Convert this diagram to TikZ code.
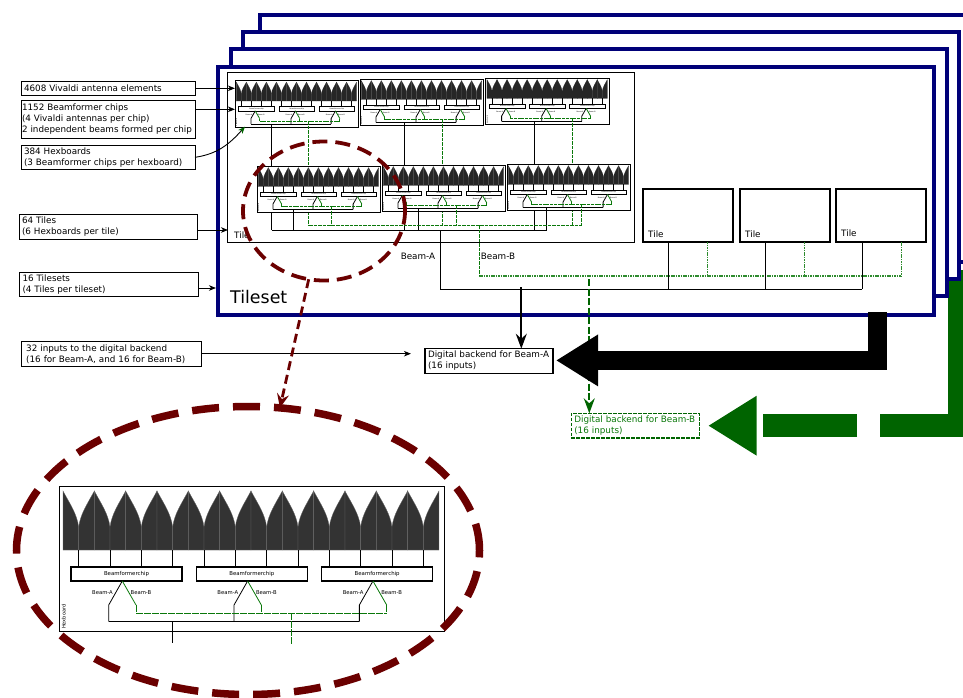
\documentclass[tikz,border=0pt]{standalone}
\usepackage{fontspec}
\setmainfont{DejaVu Sans}
\usetikzlibrary{arrows.meta,positioning,shapes.geometric,calc}
\definecolor{framenavy}{HTML}{000078}
\definecolor{beamgreen}{HTML}{006400}
\definecolor{beamline}{HTML}{0A780A}
\definecolor{tilegreen}{HTML}{2E8B2E}
\definecolor{zoomred}{HTML}{6B0000}
\definecolor{antennagray}{HTML}{333333}
\tikzset{
    antenna/.style={fill=antennagray, draw=black!60, line width=.3pt},
    feedline/.style={line width=.7pt},
    chipbox/.style={draw, fill=white, line width=1.5pt, minimum width=111pt, minimum height=14pt, inner sep=0pt, outer sep=0pt, font=\fontsize{5.4}{6}\selectfont, transform shape},
    beamtag/.style={font=\fontsize{5.3}{6}\selectfont, inner sep=0pt, transform shape},
    beama/.style={draw=black, line width=.8pt},
    beamb/.style={draw=beamline, line width=.9pt, dash pattern=on 6.5pt off 1.5pt},
    pics/hexboard/.style 2 args={code={
        \node[draw, fill=white, line width=.8pt, anchor=north west, minimum width=385pt, minimum height=145pt, inner sep=0pt, outer sep=0pt, transform shape] (-box) at (0,0) {};
        % antennas and their feeds
        \foreach \k [evaluate=\k as \xa using 4+31.33*\k] in {0,...,11} {
            \path[antenna] (\xa,5) .. controls (\xa+7,18) and (\xa+14,28) .. (\xa+15.67,41) -- (\xa+15.67,64) -- (\xa,64) -- cycle;
            \path[antenna] (\xa+31.33,5) .. controls (\xa+24.33,18) and (\xa+17.33,28) .. (\xa+15.67,41) -- (\xa+15.67,64) -- (\xa+31.33,64) -- cycle;
            \draw[feedline] (\xa+15.67,64) -- (\xa+15.67,81);
        }
        % chips
        \foreach \c [evaluate=\c as \xc using 125.33*\c] in {0,1,2} {
            \node[chipbox] (-chip\c) at (67.5+\xc,88) {Beamformerchip};
            \node[beamtag] (-taga\c) at (43.5+\xc,107) {Beam-A};
            \node[beamtag] (-tagb\c) at (82+\xc,107) {Beam-B};
            \draw[beama] (63.3+\xc,95) -- (49.7+\xc,119) -- (49.7+\xc,135.7);
            \draw[draw=beamline, line width=.8pt] (63.3+\xc,95) -- (77+\xc,119);
            \draw[beamb] (77+\xc,119) -- (77+\xc,127.3);
        }
        % buses
        \coordinate (-a) at (#1,135.7);
        \coordinate (-b) at (#2,127.3);
        \draw[beamb] (77,127.3) -- (327.7,127.3);
        \draw[beama] (49.7,135.7) -- (300.4,135.7);
        \node[rotate=90, anchor=south west, font=\fontsize{5}{6}\selectfont, inner sep=0pt, transform shape] (-tag) at (7,143) {Hexboard};
    }},
}
\begin{document}
\begin{tikzpicture}[
    x=1pt, y=-1pt,
    infofont/.style={font=\fontsize{8.8}{11.1}\selectfont},
    infobox/.style 2 args={draw, fill=white, line width=.9pt, infofont, align=left, anchor=north west, text width=#1, minimum height=#2, inner xsep=3pt, inner ysep=0pt, outer sep=0pt},
    backend/.style={infobox={122pt}{24.5pt}, line width=1.4pt},
    tilesetbox/.style 2 args={draw=framenavy, fill=white, line width=4pt, anchor=north west, minimum width=#1, minimum height=#2, inner sep=0pt, outer sep=0pt},
    tilebox/.style={draw, fill=white, line width=2pt, anchor=north west, minimum width=90pt, minimum height=53pt, inner sep=0pt, outer sep=0pt},
    tilename/.style={infofont, anchor=base west, inner sep=0pt},
    arrow/.style={-{Stealth[length=7pt,width=5.5pt,inset=2pt]}, line width=.9pt},
    busa/.style={line width=.9pt},
    busb/.style={draw=beamline, line width=.9pt, dash pattern=on 3.5pt off 1pt},
    tilebusb/.style={draw=tilegreen, line width=1.1pt, dash pattern=on 1.6pt off .8pt},
    outarrow/.style={line width=1.9pt, -{Stealth[length=15pt,width=11pt,inset=5pt]}},
    zoomring/.style={draw=zoomred, ellipse, inner sep=0pt, outer sep=0pt},
]
    \useasboundingbox (0,0) rectangle (963,698);
    \clip (0,0) rectangle (963,698);

    % Beam-B feed, runs behind the tilesets
    \coordinate (feedbtop) at (959.3,270);
    \coordinate (feedbtip) at (708,425.7);
    \draw[beamgreen, line width=23.4pt, dash pattern=on 235pt off 23pt on 94pt off 200pt, -{Triangle[length=48.7pt,width=56.3pt]}] (feedbtop) |- (feedbtip);

    % Tilesets, back to front
    \node[tilesetbox={720pt}{247pt}] (tilesetd) at (259.7,15.3) {};
    \node[tilesetbox={716.3pt}{246.7pt}] (tilesetc) at (242.5,32) {};
    \node[tilesetbox={716.3pt}{246.5pt}] (tilesetb) at (230.7,49) {};
    \node[tilesetbox={716.5pt}{247pt}] (tileseta) at (217.5,67.5) {};
    \node[anchor=base west, font=\fontsize{17.4}{20}\selectfont, inner sep=0pt] (tilesetname) at (230,303) {Tileset};

    % Tile with six hexboards
    \node[draw, fill=white, line width=.9pt, anchor=north west, minimum width=406.5pt, minimum height=170pt, inner sep=0pt, outer sep=0pt] (tileone) at (227.7,72.3) {};
    \node[tilename] (tileonename) at (234,238) {Tile};

    \coordinate (busaw) at (271.7,230);
    \coordinate (busae) at (546.7,230);
    \coordinate (busbw) at (309,225);
    \coordinate (busbe) at (582,225);
    \begin{scope}[antenna/.append style={fill=black!85, draw=black!85, line width=.1pt}, feedline/.append style={line width=.8pt}, chipbox/.append style={line width=.8pt}, beamb/.append style={dash pattern=on 3pt off .7pt}]
        \pic[scale=.32] (hbone) at (235,80.5) {hexboard={113}{231}};
        \pic[scale=.32] (hbtwo) at (360,79) {hexboard={137.5}{259}};
        \pic[scale=.32] (hbthree) at (485.7,78) {hexboard={152.5}{271}};
        \foreach \hb in {hbone,hbtwo,hbthree} {
            \draw[busa] (\hb-a) -- (\hb-a |- busaw);
            \draw[busb] (\hb-b) -- (\hb-b |- busbw);
        }
        \pic[scale=.32] (hbfour) at (257,166) {hexboard={113}{233}};
        \pic[scale=.32] (hbfive) at (382,165) {hexboard={114.7}{233}};
        \pic[scale=.32] (hbsix) at (507,164) {hexboard={124}{234}};
    \end{scope}
    \foreach \hb in {hbfour,hbfive,hbsix} {
        \draw[busa] (\hb-a) -- (\hb-a |- busaw);
        \draw[busb] (\hb-b) -- (\hb-b |- busbw);
    }
    \draw[busa] (busaw) -- (busae);
    \draw[busb] (busbw) -- (busbe);

    % Other tiles
    \node[tilebox] (tiletwo) at (642.7,189.3) {};
    \node[tilebox, minimum width=89.5pt] (tilethree) at (740,189.3) {};
    \node[tilebox, minimum width=89.7pt] (tilefour) at (836.3,189) {};
    \node[tilename] (tiletwoname) at (648,237.5) {Tile};
    \node[tilename] (tilethreename) at (745,237.5) {Tile};
    \node[tilename] (tilefourname) at (841,236.5) {Tile};

    % Tileset buses
    \coordinate (tilesetaw) at (440,289);
    \coordinate (tilesetae) at (862.3,289);
    \coordinate (tilesetbw) at (479,276);
    \coordinate (tilesetbe) at (901,276);
    \draw[busa] (busaw -| tilesetaw) -- (tilesetaw) -- (tilesetae);
    \draw[tilebusb] (tilesetbw) -- (tilesetbe);
    \draw[busb] (busbw -| tilesetbw) -- (tilesetbw);
    \foreach \tl in {tiletwo,tilethree,tilefour} {
        \draw[busa] ([xshift=-19pt]\tl.south) -- ([xshift=-19pt]\tl.south |- tilesetaw);
        \draw[tilebusb] ([xshift=20pt]\tl.south) -- ([xshift=20pt]\tl.south |- tilesetbw);
    }
    \node[infofont, inner sep=0pt] (beamaname) at (418,256.7) {Beam-A};
    \node[infofont, inner sep=0pt] (beambname) at (498,256) {Beam-B};

    % Digital backends
    \node[backend] (backenda) at (425,348.7) {Digital backend for Beam-A\\(16 inputs)};
    \node[backend, draw=beamgreen, text=beamline, dash pattern=on 3.5pt off 1.5pt] (backendb) at (571.3,413.3) {Digital backend for Beam-B\\(16 inputs)};

    \coordinate (outb) at (589.3,279);
    \draw[outarrow, beamgreen, dash pattern=on 7pt off 2.5pt] (outb) -- (outb |- backendb.north);
    \coordinate (outa) at (521.3,287);
    \draw[outarrow] (outa) -- (outa |- backenda.north);

    \coordinate (feedatop) at (877.5,312);
    \coordinate (feedatip) at (556,360.4);
    \draw[line width=19.6pt, -{Triangle[length=42pt,width=48.7pt]}] (feedatop) |- (feedatip);

    % Labels on the left
    \node[infobox={168pt}{14.6pt}] (labelelements) at (21,81) {4608 Vivaldi antenna elements};
    \node[infobox={172pt}{37.3pt}, inner xsep=1pt] (labelchips) at (21,100.7) {1152 Beamformer chips\\(4 Vivaldi antennas per chip)\\2 independent beams formed per chip};
    \node[infobox={168pt}{24pt}] (labelhexboards) at (21,145.3) {384 Hexboards\\(3 Beamformer chips per hexboard)};
    \node[infobox={172.3pt}{24.6pt}] (labeltiles) at (19,214.7) {64 Tiles\\(6 Hexboards per tile)};
    \node[infobox={172pt}{24pt}, inner xsep=3.5pt] (labeltilesets) at (19,272.3) {16 Tilesets\\(4 Tiles per tileset)};
    \node[infobox={170.3pt}{24.3pt}, inner xsep=4.5pt] (labelinputs) at (21.7,341.7) {32 inputs to the digital backend\\(16 for Beam-A, and 16 for Beam-B)};

    \coordinate (chiptip) at (235,109.3);
    \coordinate (hexboardtip) at (245,126.7);
    \coordinate (tiletip) at (228,230);
    \coordinate (tilesettip) at (216,288);
    \coordinate (inputtip) at (411,353.7);
    \draw[arrow] (labelelements.east) -- (labelelements.east -| hbone-box.west);
    \draw[arrow] (labelchips.east |- chiptip) -- (chiptip);
    \draw[arrow, -{Stealth[length=7pt,width=5.5pt,inset=2pt,beamgreen]}] (labelhexboards.east) to[out=8,in=228] (hexboardtip);
    \draw[arrow] (labeltiles.east |- tiletip) -- (tiletip);
    \draw[arrow] (labeltilesets.east |- tilesettip) -- (tilesettip);
    \draw[arrow] (labelinputs.east |- inputtip) -- (inputtip);

    % Enlarged hexboard
    \pic (hbbig) at (59,486) {hexboard={113}{232}};
    \coordinate (stubaend) at (172,643);
    \coordinate (stubbend) at (291,645);
    \draw[busa] (hbbig-a) -- (stubaend);
    \draw[beamb] (hbbig-b) -- (stubbend);

    % Rings
    \node[zoomring, line width=3.8pt, dash pattern=on 15pt off 8pt, minimum width=162pt, minimum height=139pt] (ringsmall) at (324,211) {};
    \node[zoomring, line width=7.5pt, dash pattern=on 27pt off 14pt, minimum width=463pt, minimum height=288pt] (ringbig) at (248,550.5) {};
    \draw[zoomred, line width=2.8pt, dash pattern=on 9pt off 5pt, -{Stealth[length=14pt,width=12pt,inset=5pt]}] (ringsmall) -- (ringbig);
\end{tikzpicture}
\end{document}
